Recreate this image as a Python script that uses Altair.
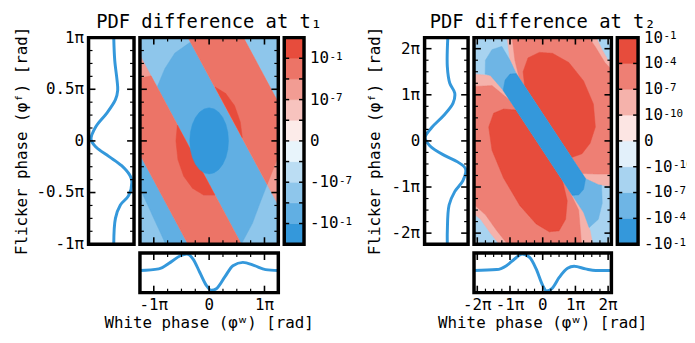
import altair as alt
import numpy as np
import pandas as pd

FONT = "DejaVu Sans Mono"
LINE_BLUE = "#3498db"

# ---------------- axis ranges / ticks (units of pi) ----------------
T1_X_RANGE = [-1.25, 1.25]
T1_Y_RANGE = [-1.0, 1.0]
T2_X_RANGE = [-2.1, 2.1]
T2_Y_RANGE = [-2.24, 2.24]

T1_X_MAJOR = [-1, 0, 1]
T1_X_MINOR = [-0.75, -0.5, -0.25, 0.25, 0.5, 0.75]
T1_Y_MAJOR = [-1, -0.5, 0, 0.5, 1]
T1_Y_MINOR = [-0.875, -0.75, -0.625, -0.375, -0.25, -0.125,
              0.125, 0.25, 0.375, 0.625, 0.75, 0.875]
T2_X_MAJOR = [-2, -1, 0, 1, 2]
T2_X_MINOR = [-1.75, -1.5, -1.25, -0.75, -0.5, -0.25,
              0.25, 0.5, 0.75, 1.25, 1.5, 1.75]
T2_Y_MAJOR = [-2, -1, 0, 1, 2]
T2_Y_MINOR = [-1.75, -1.5, -1.25, -0.75, -0.5, -0.25,
              0.25, 0.5, 0.75, 1.25, 1.5, 1.75]

# ---------------- colour levels (bottom of colour bar first) ----------------
T1_COLORS = ["#3498db", "#61afe3", "#8ec6eb", "#bbddf3", "#e8f4fb",
             "#fcebe9", "#f7c3be", "#f29c93", "#ec7467", "#e74c3c"]
T1_CB_TICKS = [1, 3, 5, 7, 9]
T1_CB_BASE = ["-10", "-10", "0", "10", "10"]
T1_CB_EXP = ["-1", "-7", "", "-7", "-1"]
T2_COLORS = ["#3498db", "#6eb5e5", "#a8d3f0", "#e2f0fa",
             "#fce5e3", "#f5b2ab", "#ee7f74", "#e74c3c"]
T2_CB_TICKS = [0, 1, 2, 3, 4, 5, 6, 7, 8]
T2_CB_BASE = ["-10", "-10", "-10", "-10", "0", "10", "10", "10", "10"]
T2_CB_EXP = ["-1", "-4", "-7", "-10", "", "-10", "-7", "-4", "-1"]

# ---------------- contour regions ----------------
# (level index, outline in (white phase, flicker phase) / pi), painted in order
T1_REGIONS = [
    (2, [(-1.4, -1.2), (1.4, -1.2), (1.4, 1.2), (-1.4, 1.2)]),
    (1, [(-0.94, 0.52), (-0.8, 0.7), (-0.62, 0.85), (-0.33, 0.96), (0.3, 1.05), (1.3, 0.2),
         (1.3, -0.3), (1.05, -0.42), (0.92, -0.6), (0.78, -0.8), (0.58, -1.0), (0.5, -1.1),
         (-0.7, -1.1), (-1.3, -0.4), (-1.3, 0.5)]),
    (7, [(-2.6, 1.22), (-1.64, 1.22), (0.8, -1.22), (-0.16, -1.22)]),
    (7, [(-0.6, 1.22), (0.4, 1.22), (2.84, -1.22), (1.85, -1.22)]),
    (8, [(-1.3, 0.6), (-1.05, 0.63), (0.8, -1.22), (-0.16, -1.22), (-1.3, -0.08)]),
    (8, [(-0.6, 1.22), (0.4, 1.22), (1.4, 0.22), (1.4, -0.1), (1.25, -0.15), (1.05, -0.42)]),
    (9, [(-0.574, 0.153), (-0.6, 0.0), (-0.564, -0.181), (-0.46, -0.341), (-0.3, -0.459),
         (-0.104, -0.522), (0.102, -0.522)]),
    (9, [(0.599, 0.032), (0.564, 0.181), (0.46, 0.341), (0.3, 0.459), (0.109, 0.521)]),
    (0, [(0.35, 0.0), (0.338, 0.083), (0.303, 0.16), (0.247, 0.226), (0.175, 0.277),
         (0.091, 0.309), (0.0, 0.32), (-0.091, 0.309), (-0.175, 0.277), (-0.247, 0.226),
         (-0.303, 0.16), (-0.338, 0.083), (-0.35, 0.0), (-0.338, -0.083), (-0.303, -0.16),
         (-0.247, -0.226), (-0.175, -0.277), (-0.091, -0.309), (0.0, -0.32),
         (0.091, -0.309), (0.175, -0.277), (0.247, -0.226), (0.303, -0.16),
         (0.338, -0.083)]),
]
T2_REGIONS = [
    (3, [(-2.3, -2.4), (2.3, -2.4), (2.3, 2.4), (-2.3, 2.4)]),
    (2, [(-1.85, 2.3), (1.8, 2.3), (2.2, 2.0), (2.2, -2.0), (1.8, -2.3), (-1.8, -2.3),
         (-2.2, -2.0), (-2.2, 1.95)]),
    (5, [(-1.11, 2.35), (1.57, 2.35), (1.8, 2.0), (2.0, 1.75), (2.3, 1.6), (2.3, -1.0),
         (1.7, -0.95), (1.31, -0.82), (-0.81, 1.46), (-1.0, 1.75)]),
    (5, [(-2.3, 1.46), (-1.6, 1.42), (-1.21, 1.10), (0.906, -1.18), (1.25, -1.55),
         (1.45, -1.95), (1.56, -2.35), (-1.21, -2.35), (-1.6, -2.0), (-1.9, -1.7),
         (-2.3, -1.47)]),
    (6, [(-0.95, 2.35), (1.3, 2.35), (1.6, 2.05), (1.9, 1.7), (2.3, 1.4), (2.3, -0.72),
         (1.7, -0.72), (1.2, -0.705), (-0.72, 1.37), (-0.85, 1.75)]),
    (6, [(-2.3, 1.17), (-1.55, 1.2), (-1.0, 0.88), (0.8, -1.064), (1.1, -1.5), (1.2, -2.35),
         (-0.95, -2.35), (-1.4, -1.95), (-1.75, -1.6), (-2.3, -1.25)]),
    (7, [(-0.805, 0.67), (0.6, -0.848), (0.75, -1.3), (0.7, -1.7), (0.5, -1.95), (0.2, -1.97),
         (-0.2, -1.8), (-0.7, -1.4), (-1.2, -0.8), (-1.55, -0.2), (-1.65, 0.3), (-1.5, 0.6),
         (-1.2, 0.69)]),
    (7, [(-0.55, 1.184), (-0.6, 1.5), (-0.45, 1.8), (-0.1, 1.92), (0.3, 1.9), (0.8, 1.7),
         (1.25, 1.3), (1.55, 0.8), (1.61, 0.3), (1.45, -0.05), (1.2, -0.28), (0.88, -0.36)]),
    (1, [(-1.76, 1.45), (-1.75, 1.75), (-1.55, 1.98), (-1.25, 2.05), (-1.0, 1.75),
         (-0.81, 1.46), (1.31, -0.82), (1.7, -0.95), (1.8, -0.96), (1.82, -1.35),
         (1.7, -1.7), (1.42, -1.88), (1.25, -1.55), (0.906, -1.18), (-1.21, 1.10),
         (-1.6, 1.42)]),
    (0, [(-1.21, 1.10), (-1.15, 1.32), (-1.0, 1.45), (-0.81, 1.46), (1.31, -0.82),
         (1.25, -1.05), (1.1, -1.17), (0.906, -1.18)]),
]

# ---------------- marginal PDF differences (arbitrary units) ----------------
T1_LEFT_PHASE = [1.0, 0.78, 0.59, 0.49, 0.40, 0.27, 0.14, 0.016, -0.06, -0.15, -0.24,
                 -0.34, -0.40, -0.53, -0.62, -0.75, -1.0]
T1_LEFT_VALUE = [0, 1, 3.3, 4, 1.7, -7, -18, -23, -18, -5, 8, 16.7, 18.3, 15, 6.7, 1.7, 0]
T1_BOTTOM_PHASE = [-1.25, -0.91, -0.70, -0.52, -0.405, -0.29, -0.17, -0.05, 0.04, 0.13,
                   0.28, 0.43, 0.61, 0.82, 1.02, 1.25]
T1_BOTTOM_VALUE = [0, 1.7, 8.3, 15, 16.7, 11.7, -1.7, -15, -20, -18.3, -6.7, 5, 8.3, 5, 1, 0]
T2_LEFT_PHASE = [2.24, 1.61, 1.25, 1.04, 0.82, 0.54, 0.29, 0.07, -0.11, -0.32, -0.46,
                 -0.61, -0.86, -1.10, -1.39, -1.96, -2.24]
T2_LEFT_VALUE = [0.5, 0, 2.5, 7.5, 5.8, -4.2, -15.8, -22.5, -17.5, -2.5, 10.8, 18.5,
                 15.8, 7.5, 1.8, 0, 0]
T2_BOTTOM_PHASE = [-2.1, -1.41, -1.11, -0.86, -0.63, -0.40, -0.20, 0.0, 0.12, 0.28, 0.51,
                   0.76, 0.96, 1.31, 1.62, 2.1]
T2_BOTTOM_VALUE = [0, 1, 5, 11.7, 16.7, 13.3, 1.7, -15, -20.7, -18.3, -6.7, 2.3, 4.3,
                   1.7, 0, 0]

TITLE_1 = "PDF difference at t₁"
TITLE_2 = "PDF difference at t₂"
Y_TITLE = "Flicker phase (φᶠ) [rad]"
X_TITLE = "White phase (φʷ) [rad]"

# ---------------- layout sizes ----------------
MAIN_H = 209
MARG = 40
SPACE_COL = 6
SPACE_ROW = 9
FS = 16
CHAR_W = 0.602 * FS


def pi_label(v):
    return "0" if v == 0 else f"{v:g}π"


def area_rows(poly, xdom):
    """Vertical extent of a region outline at closely spaced white-phase positions."""
    P = np.asarray(poly, float)
    n = len(P)
    lo = max(P[:, 0].min(), xdom[0] - 0.05)
    hi = min(P[:, 0].max(), xdom[1] + 0.05)
    eps = 1e-7 * (xdom[1] - xdom[0])
    xs = list(np.linspace(lo + eps, hi - eps, 300))
    for vx in P[:, 0]:
        for d in (-eps, eps):
            if lo < vx + d < hi:
                xs.append(vx + d)
    rows = []
    for x in sorted(set(xs)):
        ys = []
        for i in range(n):
            x1, y1 = P[i]
            x2, y2 = P[(i + 1) % n]
            if (x1 <= x < x2) or (x2 <= x < x1):
                ys.append(y1 + (x - x1) * (y2 - y1) / (x2 - x1))
        if len(ys) >= 2:
            rows.append((float(x), float(min(ys)), float(max(ys))))
    return pd.DataFrame(rows, columns=["x", "lo", "hi"])


def qscale(dom):
    return alt.Scale(domain=dom, nice=False, zero=False)


def ticks(values, channel, scale, side, length, w, h, thick=1.5):
    df = pd.DataFrame({"v": values})
    base = alt.Chart(df).mark_rule(color="black", strokeWidth=thick)
    if channel == "x":
        enc = dict(x=alt.X("v:Q", scale=scale, axis=None))
        if side == "bottom":
            enc.update(y=alt.value(h), y2=alt.value(h - length))
        else:
            enc.update(y=alt.value(0), y2=alt.value(length))
    else:
        enc = dict(y=alt.Y("v:Q", scale=scale, axis=None))
        if side == "left":
            enc.update(x=alt.value(0), x2=alt.value(length))
        else:
            enc.update(x=alt.value(w), x2=alt.value(w - length))
    return base.encode(**enc)


def frame(w, h):
    return alt.Chart(pd.DataFrame({"a": [0]})).mark_rect(
        fillOpacity=0, stroke="black", strokeWidth=3.5
    ).encode(x=alt.value(0), x2=alt.value(w), y=alt.value(0), y2=alt.value(h))


def axis_ticks(channel, major, minor, scale, sides, w, h):
    out = []
    for s in sides:
        out.append(ticks(major, channel, scale, s, 7, w, h, 1.6))
        out.append(ticks(minor, channel, scale, s, 4, w, h, 1.2))
    return out


def text_mark(**kw):
    return dict(font=FONT, fontSize=FS, color="black", **kw)


def main_panel(regions, colors, xdom, ydom, w, h, xmaj, xmin, ymaj, ymin, title):
    xs, ys = qscale(xdom), qscale(ydom)
    layers = []
    for level, poly in regions:
        df = area_rows(poly, xdom)
        col = colors[level]
        layers.append(alt.Chart(df).mark_area(
            clip=True, color=col, stroke=col, strokeWidth=0.5, interpolate="linear"
        ).encode(x=alt.X("x:Q", scale=xs, axis=None),
                 y=alt.Y("lo:Q", scale=ys, axis=None), y2="hi:Q"))
    layers += axis_ticks("x", xmaj, xmin, xs, ["top", "bottom"], w, h)
    layers += axis_ticks("y", ymaj, ymin, ys, ["left", "right"], w, h)
    layers.append(frame(w, h))
    return alt.layer(*layers).properties(
        width=w, height=h,
        title=alt.TitleParams(title, font=FONT, fontSize=19, fontWeight="normal",
                              color="black", offset=4))


def colorbar(colors, tick_pos, bases, exps, w, h):
    n = len(colors)
    df = pd.DataFrame({"lo": list(range(n)), "hi": list(range(1, n + 1)), "c": colors})
    ys = qscale([0, n])
    bands = alt.Chart(df).mark_rect(strokeWidth=0.6).encode(
        x=alt.value(0), x2=alt.value(w),
        y=alt.Y("lo:Q", scale=ys, axis=None), y2="hi:Q",
        fill=alt.Fill("c:N", scale=None), stroke=alt.Stroke("c:N", scale=None))
    lab = pd.DataFrame({"v": tick_pos, "b": bases, "e": exps})
    base_txt = alt.Chart(lab).mark_text(**text_mark(align="left", baseline="middle", dx=6)).encode(
        x=alt.value(w), y=alt.Y("v:Q", scale=ys, axis=None), text="b:N")
    layers = [bands, base_txt]
    for blen in sorted(set(len(b) for b, e in zip(bases, exps) if e)):
        sub = lab[(lab["b"].str.len() == blen) & (lab["e"] != "")]
        layers.append(alt.Chart(sub).mark_text(
            font=FONT, fontSize=11, color="black", align="left", baseline="alphabetic",
            dx=6 + blen * CHAR_W + 0.5, dy=1.5).encode(
            x=alt.value(w), y=alt.Y("v:Q", scale=ys, axis=None), text="e:N"))
    inner = list(range(1, n))
    layers += [ticks(inner, "y", ys, "left", 5, w, h, 1.5),
               ticks(inner, "y", ys, "right", 5, w, h, 1.5),
               frame(w, h)]
    return alt.layer(*layers).properties(width=w, height=h)


def left_marginal(phase, value, vdom, ydom, w, h, ymaj, ymin, title_x):
    df = pd.DataFrame({"p": phase, "v": value})
    ys = qscale(ydom)
    line = alt.Chart(df).mark_line(color=LINE_BLUE, strokeWidth=3, clip=True,
                                   interpolate="catmull-rom").encode(
        x=alt.X("v:Q", scale=qscale(vdom), axis=None),
        y=alt.Y("p:Q", scale=ys, axis=None),
        order=alt.Order("p:Q"))
    lab = pd.DataFrame({"v": ymaj, "t": [pi_label(v) for v in ymaj]})
    labels = alt.Chart(lab).mark_text(**text_mark(align="right", baseline="middle", dx=-4.5)).encode(
        x=alt.value(0), y=alt.Y("v:Q", scale=ys, axis=None), text="t:N")
    ttl = alt.Chart(pd.DataFrame({"t": [Y_TITLE]})).mark_text(
        **text_mark(angle=270, align="center", baseline="alphabetic")).encode(
        x=alt.value(title_x), y=alt.value(h / 2), text="t:N")
    layers = [line] + axis_ticks("y", ymaj, ymin, ys, ["left", "right"], w, h)
    layers += [frame(w, h), labels, ttl]
    return alt.layer(*layers).properties(width=w, height=h)


def bottom_marginal(phase, value, vdom, xdom, w, h, xmaj, xmin):
    df = pd.DataFrame({"p": phase, "v": value})
    xs = qscale(xdom)
    line = alt.Chart(df).mark_line(color=LINE_BLUE, strokeWidth=3, clip=True,
                                   interpolate="monotone").encode(
        x=alt.X("p:Q", scale=xs, axis=None),
        y=alt.Y("v:Q", scale=qscale(vdom), axis=None))
    lab = pd.DataFrame({"v": xmaj, "t": [pi_label(v) for v in xmaj]})
    labels = alt.Chart(lab).mark_text(**text_mark(align="center", baseline="alphabetic")).encode(
        x=alt.X("v:Q", scale=xs, axis=None), y=alt.value(h + 17.5), text="t:N")
    ttl = alt.Chart(pd.DataFrame({"t": [X_TITLE]})).mark_text(
        **text_mark(align="center", baseline="alphabetic")).encode(
        x=alt.value(w / 2), y=alt.value(h + 35.5), text="t:N")
    layers = [line] + axis_ticks("x", xmaj, xmin, xs, ["top", "bottom"], w, h)
    layers += [frame(w, h), labels, ttl]
    return alt.layer(*layers).properties(width=w, height=h)


def empty(w, h):
    return alt.Chart(pd.DataFrame({"a": [0]})).mark_point(opacity=0, size=1).encode(
        x=alt.value(0), y=alt.value(0)).properties(width=w, height=h)


W_LM1, W_M1, W_CB1 = 46, 140, 20
W_GAP = 110
W_LM2, W_M2, W_CB2 = 44, 139, 21

lm1 = left_marginal(T1_LEFT_PHASE, T1_LEFT_VALUE, [-25.5, 20.5], T1_Y_RANGE, W_LM1, MAIN_H,
                    T1_Y_MAJOR, T1_Y_MINOR, -62.5)
m1 = main_panel(T1_REGIONS, T1_COLORS, T1_X_RANGE, T1_Y_RANGE, W_M1, MAIN_H,
                T1_X_MAJOR, T1_X_MINOR, T1_Y_MAJOR, T1_Y_MINOR, TITLE_1)
cb1 = colorbar(T1_COLORS, T1_CB_TICKS, T1_CB_BASE, T1_CB_EXP, W_CB1, MAIN_H)
bm1 = bottom_marginal(T1_BOTTOM_PHASE, T1_BOTTOM_VALUE, [-22.3, 17.7], T1_X_RANGE, W_M1, MARG,
                      T1_X_MAJOR, T1_X_MINOR)

lm2 = left_marginal(T2_LEFT_PHASE, T2_LEFT_VALUE, [-23, 21], T2_Y_RANGE, W_LM2, MAIN_H,
                    T2_Y_MAJOR, T2_Y_MINOR, -45.5)
m2 = main_panel(T2_REGIONS, T2_COLORS, T2_X_RANGE, T2_Y_RANGE, W_M2, MAIN_H,
                T2_X_MAJOR, T2_X_MINOR, T2_Y_MAJOR, T2_Y_MINOR, TITLE_2)
cb2 = colorbar(T2_COLORS, T2_CB_TICKS, T2_CB_BASE, T2_CB_EXP, W_CB2, MAIN_H)
bm2 = bottom_marginal(T2_BOTTOM_PHASE, T2_BOTTOM_VALUE, [-22.3, 17.7], T2_X_RANGE, W_M2, MARG,
                      T2_X_MAJOR, T2_X_MINOR)

chart = alt.concat(
    lm1, m1, cb1, empty(W_GAP, 1), lm2, m2, cb2,
    empty(1, MARG), bm1, empty(1, MARG), empty(1, MARG), empty(1, MARG), bm2, empty(1, MARG),
    columns=7, spacing={"row": SPACE_ROW, "column": SPACE_COL},
    align="each", bounds="flush",
).properties(
    autosize=alt.AutoSizeParams(type="none"),
    padding={"left": 81.5, "top": 28, "right": 605.5, "bottom": 307},
    background="white",
).configure_view(strokeWidth=0)

chart.save("out.html", embed_options={"renderer": "svg", "actions": False})
